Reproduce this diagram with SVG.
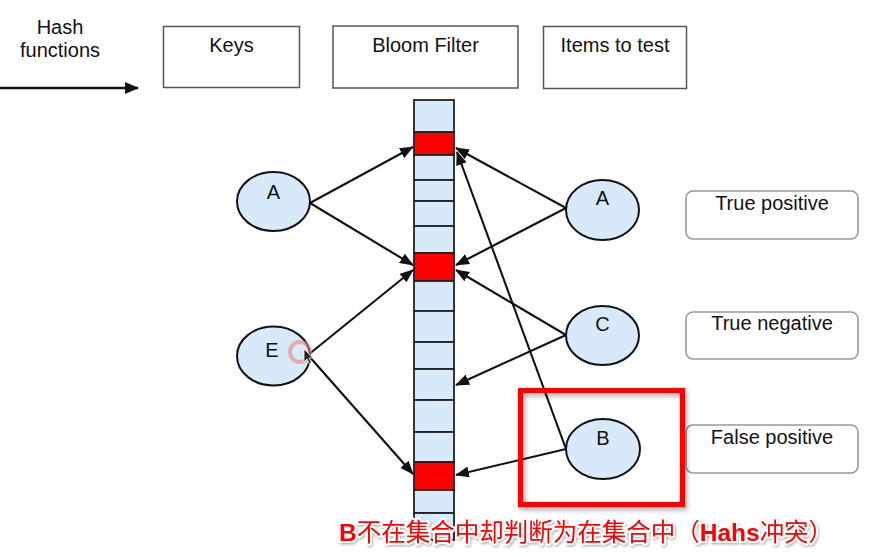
<svg xmlns="http://www.w3.org/2000/svg" width="887" height="557" viewBox="0 0 887 557">
<style>
  .lbl { font-family: "Liberation Sans", Arial, sans-serif; font-size: 20px; fill: #111; text-anchor: middle; }
  .box { fill: #fff; stroke: #555; stroke-width: 1.5; }
  .res { fill: #fff; stroke: #999; stroke-width: 1.6; }
  .node { fill: #d8eafa; stroke: #111; stroke-width: 2; }
  .cell { fill: #d8eafa; stroke: #222; stroke-width: 1.8; }
  .hit { fill: #f00; stroke: #222; stroke-width: 1.8; }
  .conn { stroke: #111; stroke-width: 2.1; fill: none; marker-end: url(#arr); }
  .note { font-family: "Liberation Sans", Arial, "Noto Sans CJK SC", sans-serif; font-size: 24.5px; fill: #f00; stroke: #fff; stroke-width: 4; stroke-linejoin: round; paint-order: stroke; }
</style>
<defs>
  <marker id="arr" markerUnits="userSpaceOnUse" markerWidth="14" markerHeight="11" refX="13" refY="5.5" orient="auto">
    <path d="M0,0 L14,5.5 L0,11 Z" fill="#111"/>
  </marker>
  <marker id="arrH" markerUnits="userSpaceOnUse" markerWidth="14" markerHeight="12" refX="13" refY="6" orient="auto">
    <path d="M0,0 L14,6 L0,12 Z" fill="#111"/>
  </marker>
  <filter id="shadow" x="-10%" y="-10%" width="130%" height="130%">
    <feDropShadow dx="2" dy="3" stdDeviation="2.5" flood-color="#000" flood-opacity="0.35"/>
  </filter>
  <filter id="halo" x="-5%" y="-20%" width="110%" height="150%">
    <feDropShadow dx="1" dy="1.5" stdDeviation="1.2" flood-color="#000" flood-opacity="0.3"/>
  </filter>
</defs>

<g id="hash-functions">
  <text class="lbl" x="60" y="34" font-size="21">Hash</text>
  <text class="lbl" x="60" y="57" font-size="21">functions</text>
  <line x1="0" y1="88" x2="138" y2="88" stroke="#111" stroke-width="2.5" marker-end="url(#arrH)"/>
</g>

<g id="header-keys">
  <rect class="box" x="163.5" y="26.5" width="136" height="61"/>
  <text class="lbl" x="231.5" y="52">Keys</text>
</g>
<g id="header-bloom">
  <rect class="box" x="333" y="26" width="185" height="62"/>
  <text class="lbl" x="425.5" y="52">Bloom Filter</text>
</g>
<g id="header-items">
  <rect class="box" x="543.5" y="26.5" width="143" height="62"/>
  <text class="lbl" x="615" y="52">Items to test</text>
</g>

<g id="bloom-array">
  <rect class="cell" x="414" y="100" width="40" height="32"/>
  <rect class="hit" x="414" y="132" width="40" height="23"/>
  <rect class="cell" x="414" y="155" width="40" height="25"/>
  <rect class="cell" x="414" y="180" width="40" height="21"/>
  <rect class="cell" x="414" y="201" width="40" height="25"/>
  <rect class="cell" x="414" y="226" width="40" height="27"/>
  <rect class="hit" x="414" y="253" width="40" height="28"/>
  <rect class="cell" x="414" y="281" width="40" height="30"/>
  <rect class="cell" x="414" y="311" width="40" height="31"/>
  <rect class="cell" x="414" y="342" width="40" height="27"/>
  <rect class="cell" x="414" y="369" width="40" height="31"/>
  <rect class="cell" x="414" y="400" width="40" height="32"/>
  <rect class="cell" x="414" y="432" width="40" height="30"/>
  <rect class="hit" x="414" y="462" width="40" height="28"/>
  <rect class="cell" x="414" y="490" width="40" height="23"/>
  <rect class="cell" x="414" y="513" width="40" height="27"/>
</g>

<g id="connectors">
  <line class="conn" x1="310" y1="203" x2="413" y2="147"/>
  <line class="conn" x1="310" y1="203" x2="413" y2="265"/>
  <line class="conn" x1="308" y1="355" x2="413" y2="270"/>
  <line class="conn" x1="308" y1="355" x2="413" y2="474"/>
  <line class="conn" x1="566" y1="208" x2="456" y2="148"/>
  <line class="conn" x1="566" y1="208" x2="456" y2="265"/>
  <line class="conn" x1="566" y1="335" x2="456" y2="270"/>
  <line class="conn" x1="566" y1="335" x2="456" y2="385"/>
  <line class="conn" x1="566" y1="449" x2="457" y2="152"/>
  <line class="conn" x1="566" y1="449" x2="456" y2="475"/>
</g>

<g id="key-A">
  <ellipse class="node" cx="273.5" cy="201.5" rx="36.5" ry="29.5"/>
  <text class="lbl" x="273.5" y="199">A</text>
</g>
<g id="key-E">
  <ellipse class="node" cx="273.5" cy="356" rx="36.5" ry="29.5"/>
  <text class="lbl" x="272" y="357">E</text>
</g>
<g id="test-A">
  <ellipse class="node" cx="602.5" cy="210" rx="36.5" ry="30"/>
  <text class="lbl" x="602.5" y="205">A</text>
</g>
<g id="test-C">
  <ellipse class="node" cx="602.5" cy="335.5" rx="36.5" ry="29.5"/>
  <text class="lbl" x="602.5" y="331">C</text>
</g>
<g id="test-B">
  <ellipse class="node" cx="603" cy="449" rx="37" ry="30"/>
  <text class="lbl" x="603" y="445">B</text>
</g>

<g id="result-true-positive">
  <rect class="res" x="686" y="191" width="172" height="48" rx="7"/>
  <text class="lbl" x="772" y="210">True positive</text>
</g>
<g id="result-true-negative">
  <rect class="res" x="686" y="312" width="172" height="47" rx="7"/>
  <text class="lbl" x="772" y="330">True negative</text>
</g>
<g id="result-false-positive">
  <rect class="res" x="686" y="425" width="172" height="48" rx="7"/>
  <text class="lbl" x="772" y="444">False positive</text>
</g>

<g id="cursor">
  <circle cx="300" cy="352" r="10" fill="none" stroke="#f08080" stroke-width="4" opacity="0.6"/>
  <path d="M304,349 L304,362 L307,359 L309.5,364 L311.5,363 L309,358 L313,358 Z" fill="#222" stroke="#fff" stroke-width="0.8"/>
</g>

<g id="highlight">
  <rect x="520.5" y="390.5" width="162" height="114" fill="none" stroke="#f00" stroke-width="5" filter="url(#shadow)"/>
  <text class="note" x="339" y="541" filter="url(#halo)"><tspan font-weight="bold">B</tspan>不在集合中却判断为在集合中（<tspan font-weight="bold">Hahs</tspan>冲突）</text>
</g>
</svg>
